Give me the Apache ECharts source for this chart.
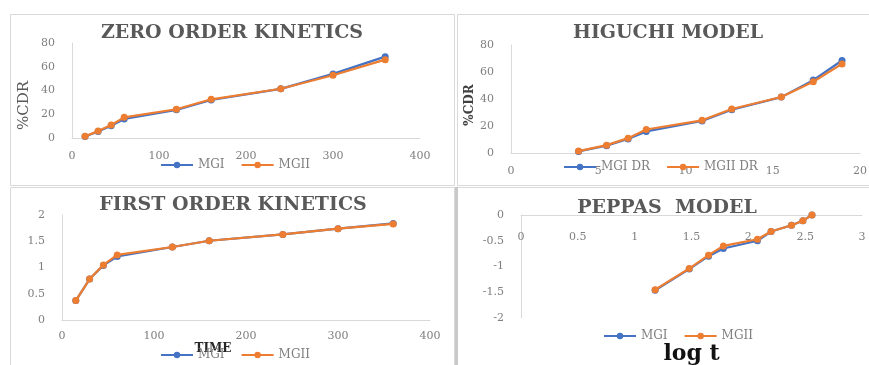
<!DOCTYPE html>
<html>
<head>
<meta charset="utf-8">
<script src="https://cdn.jsdelivr.net/npm/echarts@6/dist/echarts.min.js"></script>
<style>
html,body{margin:0;padding:0;background:#fff;}
#c{width:869px;height:365px;}
</style>
</head>
<body>
<div id="c"></div>
<script>
// ---- data ----
const time = [15, 30, 45, 60, 120, 160, 240, 300, 360];
const sqrtTime = [3.87, 5.48, 6.71, 7.75, 10.95, 12.65, 15.49, 17.32, 18.97];
const logTime = [1.18, 1.48, 1.65, 1.78, 2.08, 2.2, 2.38, 2.48, 2.56];
const cdrMGI = [1.2, 5.4, 10.4, 16.0, 23.7, 32.0, 41.4, 54.0, 68.5];
const cdrMGII = [1.4, 5.8, 11.0, 17.4, 24.2, 32.6, 41.5, 52.8, 66.0];
const logCdrMGI = [0.37, 0.78, 1.04, 1.21, 1.39, 1.51, 1.63, 1.74, 1.84];
const logCdrMGII = [0.37, 0.78, 1.05, 1.24, 1.39, 1.51, 1.63, 1.74, 1.83];
const peppasMGI = [-1.46, -1.05, -0.80, -0.65, -0.50, -0.32, -0.20, -0.11, 0.0];
const peppasMGII = [-1.45, -1.04, -0.78, -0.60, -0.47, -0.32, -0.20, -0.11, 0.0];
const titles = ['ZERO ORDER KINETICS', 'HIGUCHI MODEL', 'FIRST ORDER KINETICS', 'PEPPAS  MODEL'];

const BLUE = '#4472C4', ORANGE = '#ED7D31';
const FONT = 'DejaVu Serif';
const pair = (xs, ys) => xs.map((x, i) => [x, ys[i]]);

const chart = echarts.init(document.getElementById('c'), null, {renderer: 'canvas'});

function xAx(gi, min, max, interval, margin, extra) {
  return Object.assign({
    gridIndex: gi, type: 'value', min, max, interval,
    axisLine: {show: true, lineStyle: {color: '#d9d9d9', width: 1}},
    axisTick: {show: false},
    splitLine: {show: false},
    axisLabel: {color: '#7f7f7f', fontFamily: FONT, fontSize: 11, margin, hideOverlap: false}
  }, extra || {});
}
function yAx(gi, min, max, interval, extra) {
  return Object.assign({
    gridIndex: gi, type: 'value', min, max, interval,
    axisLine: {show: true, onZero: false, lineStyle: {color: '#d9d9d9', width: 1}},
    axisTick: {show: false},
    splitLine: {show: false},
    axisLabel: {color: '#7f7f7f', fontFamily: FONT, fontSize: 11, margin: 17, hideOverlap: false}
  }, extra || {});
}
function ser(name, gi, data, color, z) {
  return {
    name, type: 'line', xAxisIndex: gi, yAxisIndex: gi, data,
    symbol: 'circle', symbolSize: 7, z: z,
    lineStyle: {color, width: 2.2},
    itemStyle: {color},
    emphasis: {disabled: true}, animation: false
  };
}
function leg(names, left, top) {
  return {
    data: names, left, top, itemWidth: 32, itemHeight: 8, itemGap: 16,
    textStyle: {color: '#7f7f7f', fontFamily: FONT, fontSize: 12},
    selectedMode: false
  };
}
function ttl(text, x, y) {
  return {type: 'text', x, y, style: {text, fill: '#595959', font: 'bold 19px "' + FONT + '"', textAlign: 'center', textVerticalAlign: 'middle'}};
}
function panel(x, y, w, h) {
  return {type: 'rect', shape: {x, y, width: w, height: h}, style: {fill: '#fff', stroke: '#d9d9d9', lineWidth: 1}, z: -10, silent: true};
}
function grid(left, top, width, height) {
  return {left, top, width, height, outerBoundsMode: 'none', containLabel: false};
}

const option = {
  animation: false,
  backgroundColor: '#fff',
  graphic: [
    panel(10.5, 14.5, 444, 171),
    panel(457.5, 14.5, 420, 171),
    panel(10.5, 187.5, 444, 185),
    panel(457.5, 187.5, 420, 185),
    {type: 'rect', shape: {x: 455, y: 187, width: 3, height: 180}, style: {fill: '#c8c8c8'}, z: -9, silent: true},
    ttl(titles[0], 232, 33),
    ttl(titles[1], 668, 33),
    ttl(titles[2], 233, 205),
    ttl(titles[3], 667, 208)
  ],
  grid: [
    grid(72, 43, 348, 95),
    grid(511, 45, 349, 108),
    grid(62, 215, 368, 105),
    grid(521, 215, 341, 103)
  ],
  xAxis: [
    xAx(0, 0, 400, 100, 13),
    xAx(1, 0, 20, 5, 13),
    xAx(2, 0, 400, 100, 11, {
      name: 'TIME', nameLocation: 'middle', nameGap: 21,
      nameTextStyle: {color: '#262626', fontFamily: FONT, fontWeight: 'bold', fontSize: 12, padding: [0, 66, 0, 0]}
    }),
    {
      gridIndex: 3, type: 'value', min: 0, max: 3, interval: 0.5, position: 'top',
      axisLine: {show: true, onZero: false, lineStyle: {color: '#d9d9d9', width: 1}},
      axisTick: {show: false},
      splitLine: {show: false},
      axisLabel: {inside: true, color: '#7f7f7f', fontFamily: FONT, fontSize: 11, margin: 17, hideOverlap: false},
      name: 'log t', nameLocation: 'middle', nameGap: -150,
      nameTextStyle: {color: '#111', fontFamily: FONT, fontWeight: 'bold', fontSize: 22}
    }
  ],
  yAxis: [
    yAx(0, 0, 80, 20, {
      name: '%CDR', nameLocation: 'middle', nameGap: 40, nameRotate: 90,
      nameTextStyle: {color: '#595959', fontFamily: FONT, fontSize: 15, padding: [0, 30, 0, 0]}
    }),
    yAx(1, 0, 80, 20, {
      name: '%CDR', nameLocation: 'middle', nameGap: 35, nameRotate: 90,
      nameTextStyle: {color: '#404040', fontFamily: FONT, fontWeight: 'bold', fontSize: 12, padding: [0, 12, 0, 0]}
    }),
    yAx(2, 0, 2, 0.5),
    yAx(3, -2, 0, 0.5)
  ],
  legend: [
    leg(['MGI', 'MGII'], 155, 154),
    leg(['MGI DR', 'MGII DR'], 558, 156),
    leg(['MGI', 'MGII'], 155, 344),
    leg(['MGI', 'MGII'], 598, 325)
  ],
  series: [
    ser('MGI', 0, pair(time, cdrMGI), BLUE, 2),
    ser('MGII', 0, pair(time, cdrMGII), ORANGE, 3),
    ser('MGI DR', 1, pair(sqrtTime, cdrMGI), BLUE, 2),
    ser('MGII DR', 1, pair(sqrtTime, cdrMGII), ORANGE, 3),
    ser('MGI', 2, pair(time, logCdrMGI), BLUE, 2),
    ser('MGII', 2, pair(time, logCdrMGII), ORANGE, 3),
    ser('MGI', 3, pair(logTime, peppasMGI), BLUE, 2),
    ser('MGII', 3, pair(logTime, peppasMGII), ORANGE, 3)
  ]
};
chart.setOption(option);
</script>
</body>
</html>
